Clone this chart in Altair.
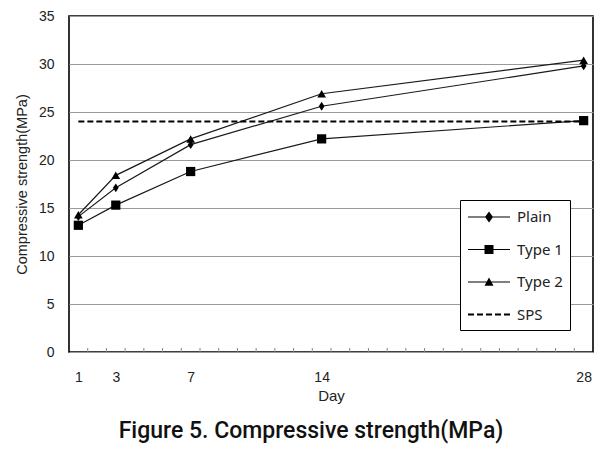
import altair as alt
import pandas as pd

# ---- data ----
days = [1, 3, 7, 14, 28]
plain = [14.1, 17.1, 21.6, 25.6, 29.8]
type1 = [13.2, 15.3, 18.8, 22.2, 24.1]
type2 = [14.3, 18.4, 22.2, 26.9, 30.4]
sps_days = [1, 28]
sps_values = [24.0, 24.0]
series_names = ["Plain", "Type 1", "Type 2", "SPS"]
x_label_values = [1, 3, 7, 14, 28]
y_tick_values = [0, 5, 10, 15, 20, 25, 30, 35]
minor_ticks = [k + 0.5 for k in range(1, 28)]

rows = []
for name, vals in [("Plain", plain), ("Type 1", type1), ("Type 2", type2)]:
    for d, v in zip(days, vals):
        rows.append({"series": name, "day": d, "value": v})
df = pd.DataFrame(rows)
sps_df = pd.DataFrame({"series": "SPS", "day": sps_days, "value": sps_values})
tick_df = pd.DataFrame({"t": minor_ticks})

FONT = "Liberation Sans"
W, H = 524, 336

xscale = alt.Scale(domain=[0.5, 28.5], nice=False, zero=False)
yscale = alt.Scale(domain=[0, 35], nice=False)

x_enc = alt.X("day:Q", scale=xscale,
              axis=alt.Axis(values=x_label_values, title="Day", grid=False, ticks=False,
                            domain=False, labelPadding=18, titlePadding=4,
                            labelFont=FONT, labelFontSize=14, titleFont=FONT,
                            titleFontSize=15, titleFontWeight="normal",
                            labelColor="#222", titleColor="#222"))
y_enc = alt.Y("value:Q", scale=yscale,
              axis=alt.Axis(values=y_tick_values, title="Compressive strength(MPa)",
                            grid=True, gridColor="#9a9a9a", gridWidth=1, ticks=False,
                            domain=False, labelPadding=15, titlePadding=9,
                            labelFont=FONT, labelFontSize=14, titleFont=FONT,
                            titleFontSize=14.5, titleFontWeight="normal",
                            labelColor="#222", titleColor="#222"))

diamond = "M0,-1.4L0.9,0L0,1.4L-0.9,0Z"
marker_shapes = {"Plain": (diamond, 40), "Type 1": ("square", 85), "Type 2": ("triangle-up", 75)}

lines = alt.Chart(df).mark_line(color="#1a1a1a", strokeWidth=1.2).encode(
    x=x_enc, y=y_enc, detail="series:N")

sps = alt.Chart(sps_df).mark_line(color="#000", strokeWidth=2, strokeDash=[6, 3]).encode(
    x="day:Q", y="value:Q")

point_layers = []
for name, (shp, sz) in marker_shapes.items():
    point_layers.append(
        alt.Chart(df).transform_filter(alt.datum.series == name)
        .mark_point(filled=True, color="#000", opacity=1, shape=shp, size=sz)
        .encode(x="day:Q", y="value:Q"))

# legend symbols (filled paths): 1 unit = 10px, line from -0.9 to 3.3, marker at 1.2
LINE = "M-0.9,-0.055H3.3V0.055H-0.9Z"
leg_paths = [
    LINE + "M1.2,-0.55L1.6,0L1.2,0.55L0.8,0Z",
    LINE + "M0.75,-0.45H1.65V0.45H0.75Z",
    LINE + "M1.2,-0.45L1.65,0.38H0.75Z",
    "M-0.9,-0.1H-0.3V0.1H-0.9ZM0,-0.1H0.6V0.1H0ZM0.9,-0.1H1.5V0.1H0.9Z"
    "M1.8,-0.1H2.4V0.1H1.8ZM2.7,-0.1H3.3V0.1H2.7Z",
]
legend_layer = alt.Chart(df).mark_point(filled=True, opacity=0, color="#000").encode(
    x="day:Q", y="value:Q",
    shape=alt.Shape("series:N", scale=alt.Scale(domain=series_names, range=leg_paths),
                    legend=alt.Legend(title=None, orient="none", legendX=391, legendY=184,
                                      strokeColor="#000", fillColor="#fff", padding=7,
                                      symbolSize=400, symbolStrokeColor="#000",
                                      symbolFillColor="#000", symbolStrokeWidth=0,
                                      symbolOpacity=1, labelFont="Noto Sans",
                                      labelFontSize=15, labelColor="#222",
                                      labelOffset=30, rowPadding=14.5)))

ticks = alt.Chart(tick_df).mark_rule(color="#888", strokeWidth=1).encode(
    x="t:Q", y=alt.datum(0), y2=alt.datum(0.42))

chart = alt.layer(lines, sps, *point_layers, legend_layer, ticks).properties(
    width=W, height=H,
    autosize=alt.AutoSizeParams(type="none"),
    padding={"left": 61, "top": 8, "right": 12, "bottom": 95},
    title=alt.TitleParams("Figure 5. Compressive strength(MPa)", orient="bottom",
                          anchor="middle", font="Roboto",
                          fontSize=23, fontWeight=500, color="#111", offset=17, dx=-20),
).configure_view(stroke="#000", strokeWidth=1.6)

chart.save("out.html", embed_options={"renderer": "svg", "actions": False})
